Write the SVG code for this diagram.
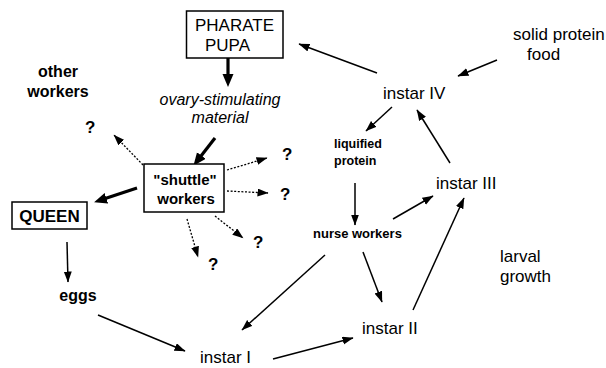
<svg xmlns="http://www.w3.org/2000/svg" width="606" height="368" viewBox="0 0 606 368">
<style>
text{font-family:"Liberation Sans",Arial,sans-serif;fill:#000}
.r{font-size:17px}
.b{font-size:16px;font-weight:bold}
.s{font-size:12.5px;font-weight:bold}
.it{font-size:16px;font-style:italic}
.q{font-size:17px;font-weight:bold}
.box{fill:#fff;stroke:#000;stroke-width:1.5}
.ln{fill:none;stroke:#000;stroke-width:1.5}
.dt{fill:none;stroke:#000;stroke-width:1.3;stroke-dasharray:2 1.6}
.tk{fill:none;stroke:#000;stroke-width:3.2}
</style>
<defs>
<marker id="ah" markerUnits="userSpaceOnUse" markerWidth="12" markerHeight="9" refX="10.5" refY="4" orient="auto">
<path d="M0,0 L11,4 L0,8 z" fill="#000"/>
</marker>
<marker id="ahk" markerUnits="userSpaceOnUse" markerWidth="14" markerHeight="12" refX="6" refY="5.5" orient="auto">
<path d="M0,0 L13,5.5 L0,11 z" fill="#000"/>
</marker>
</defs>
<g id="connectors">
<line class="ln" x1="377" y1="73" x2="299" y2="44" marker-end="url(#ah)"/>
<line class="ln" x1="497" y1="60" x2="458" y2="76" marker-end="url(#ah)"/>
<line class="ln" x1="392" y1="107" x2="366" y2="131" marker-end="url(#ah)"/>
<line class="ln" x1="450" y1="163" x2="417" y2="110" marker-end="url(#ah)"/>
<line class="ln" x1="355" y1="183" x2="355" y2="225" marker-end="url(#ah)"/>
<line class="ln" x1="393" y1="219" x2="433" y2="196" marker-end="url(#ah)"/>
<line class="ln" x1="413" y1="310" x2="464" y2="198" marker-end="url(#ah)"/>
<line class="ln" x1="363" y1="252" x2="382" y2="302" marker-end="url(#ah)"/>
<line class="ln" x1="325" y1="255" x2="242" y2="330" marker-end="url(#ah)"/>
<line class="ln" x1="273" y1="359" x2="353" y2="338" marker-end="url(#ah)"/>
<line class="ln" x1="98" y1="315" x2="185" y2="351" marker-end="url(#ah)"/>
<line class="ln" x1="67" y1="242" x2="68" y2="282" marker-end="url(#ah)"/>
<line class="dt" x1="143" y1="165" x2="114" y2="135" marker-end="url(#ah)"/>
<line class="dt" x1="227" y1="170" x2="267" y2="158" marker-end="url(#ah)"/>
<line class="dt" x1="227" y1="191" x2="268" y2="193" marker-end="url(#ah)"/>
<line class="dt" x1="215" y1="216" x2="243" y2="238" marker-end="url(#ah)"/>
<line class="dt" x1="187" y1="219" x2="198" y2="257" marker-end="url(#ah)"/>
<line class="tk" x1="228" y1="57" x2="228" y2="80" marker-end="url(#ahk)"/>
<line class="tk" x1="215" y1="138" x2="197.7" y2="160.3" marker-end="url(#ahk)"/>
<line class="tk" x1="137" y1="188" x2="100.7" y2="200.1" marker-end="url(#ahk)"/>
</g>
<g id="pharate-pupa">
<rect class="box" x="186.5" y="11" width="96.5" height="47"/>
<text class="r" x="195" y="31">PHARATE</text>
<text class="r" x="205" y="51">PUPA</text>
</g>
<g id="other-workers">
<text class="b" x="58" y="77" text-anchor="middle">other</text>
<text class="b" x="58" y="97" text-anchor="middle">workers</text>
</g>
<g id="ovary-material">
<text class="it" x="220" y="105" text-anchor="middle">ovary-stimulating</text>
<text class="it" x="220" y="123" text-anchor="middle">material</text>
</g>
<g id="shuttle-workers">
<rect class="box" x="144" y="164" width="80" height="48"/>
<text class="b" x="185" y="185" text-anchor="middle" style="font-size:15px">"shuttle"</text>
<text class="b" x="186" y="204" text-anchor="middle" style="font-size:15px">workers</text>
</g>
<g id="queen">
<rect class="box" x="12" y="202" width="75" height="27"/>
<text class="q" x="49.5" y="222" text-anchor="middle">QUEEN</text>
</g>
<g id="eggs"><text class="b" x="78" y="301" text-anchor="middle">eggs</text></g>
<g id="instar-1"><text class="r" x="200" y="363">instar I</text></g>
<g id="instar-2"><text class="r" x="362" y="334">instar II</text></g>
<g id="instar-3"><text class="r" x="436" y="189">instar III</text></g>
<g id="instar-4"><text class="r" x="383" y="99">instar IV</text></g>
<g id="solid-food">
<text class="r" x="513" y="40">solid protein</text>
<text class="r" x="527" y="60">food</text>
</g>
<g id="liquified-protein">
<text class="s" x="334" y="148">liquified</text>
<text class="s" x="334" y="165">protein</text>
</g>
<g id="nurse-workers"><text class="s" x="313" y="238" style="font-size:13px">nurse workers</text></g>
<g id="larval-growth">
<text class="r" x="500" y="262">larval</text>
<text class="r" x="500" y="282">growth</text>
</g>
<g id="question-marks">
<text class="q" x="85" y="133">?</text>
<text class="q" x="282" y="160">?</text>
<text class="q" x="280" y="200">?</text>
<text class="q" x="253" y="248">?</text>
<text class="q" x="208" y="270">?</text>
</g>
</svg>
